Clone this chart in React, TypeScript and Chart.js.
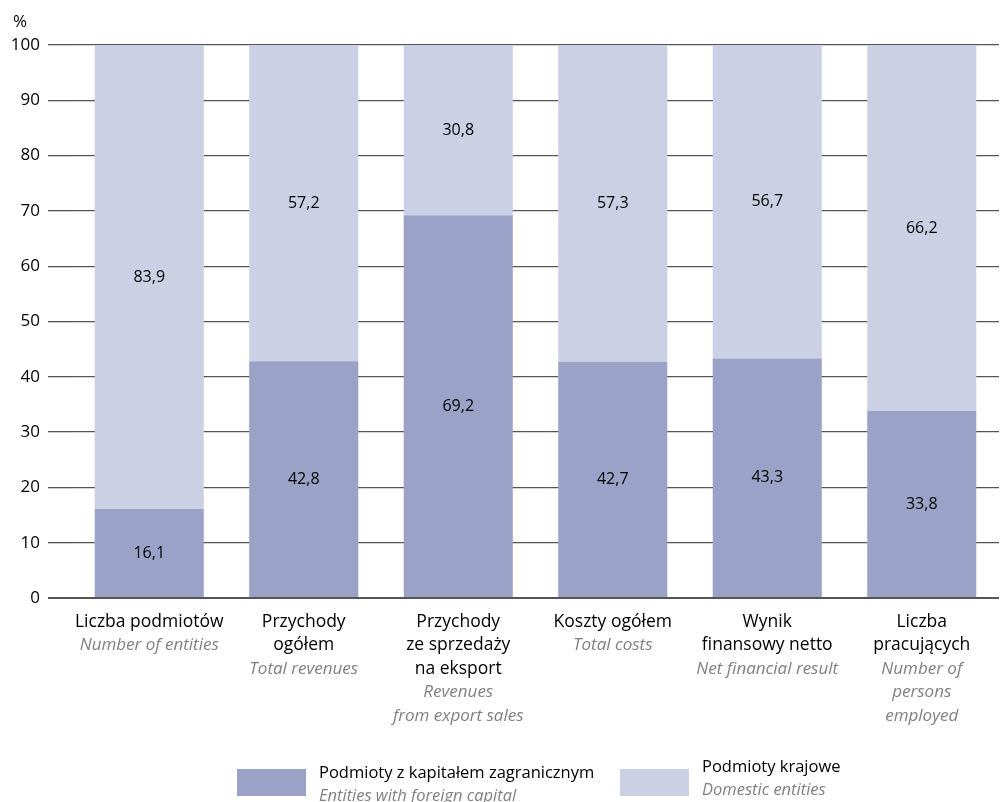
import React, { useEffect, useRef } from "react";
import { Chart, registerables } from "chart.js";

Chart.register(...registerables);

const categoriesPl: string[][] = [
  ["Liczba podmiotów"],
  ["Przychody", "ogółem"],
  ["Przychody", "ze sprzedaży", "na eksport"],
  ["Koszty ogółem"],
  ["Wynik", "finansowy netto"],
  ["Liczba", "pracujących"],
];
const categoriesEn: string[][] = [
  ["Number of entities"],
  ["Total revenues"],
  ["Revenues", "from export sales"],
  ["Total costs"],
  ["Net financial result"],
  ["Number of", "persons", "employed"],
];
const foreignValues = [16.1, 42.8, 69.2, 42.7, 43.3, 33.8];
const domesticValues = [83.9, 57.2, 30.8, 57.3, 56.7, 66.2];
const yTicks = [0, 10, 20, 30, 40, 50, 60, 70, 80, 90, 100];
const seriesNames = ["Podmioty z kapitałem zagranicznym", "Podmioty krajowe"];
const seriesNamesEn = ["Entities with foreign capital", "Domestic entities"];

const FONT = "'Open Sans', 'Noto Sans', sans-serif";
const FOREIGN_COLOR = "#9aa3c7";
const DOMESTIC_COLOR = "#cbd0e4";
const GREY_TEXT = "#808080";

const overlayPlugin = {
  id: "overlay",
  afterDatasetsDraw(chart: any) {
    const ctx = chart.ctx as CanvasRenderingContext2D;
    ctx.save();
    // value labels
    ctx.fillStyle = "#000";
    ctx.font = `16px ${FONT}`;
    ctx.textAlign = "center";
    ctx.textBaseline = "middle";
    chart.data.datasets.forEach((ds: any, di: number) => {
      const meta = chart.getDatasetMeta(di);
      meta.data.forEach((el: any, i: number) => {
        const v = ds.data[i];
        const y = (el.y + el.base) / 2;
        ctx.fillText(String(v).replace(".", ","), el.x, y);
      });
    });
    // category labels
    const xScale = chart.scales.x;
    const lh = 23.5;
    categoriesPl.forEach((lines, i) => {
      const cx = xScale.getPixelForValue(i);
      let y = 622;
      ctx.fillStyle = "#000";
      ctx.font = `17.5px ${FONT}`;
      lines.forEach((l) => {
        ctx.fillText(l, cx, y);
        y += lh;
      });
      ctx.fillStyle = GREY_TEXT;
      ctx.font = `italic 17px ${FONT}`;
      categoriesEn[i].forEach((l) => {
        ctx.fillText(l, cx, y);
        y += lh;
      });
    });
    // percent sign
    ctx.fillStyle = "#000";
    ctx.font = `17px ${FONT}`;
    ctx.textAlign = "left";
    ctx.fillText("%", 13, 22);
    // legend
    const legendItems = [
      { x: 237, color: FOREIGN_COLOR, ty: 773 },
      { x: 620, color: DOMESTIC_COLOR, ty: 767 },
    ];
    legendItems.forEach((it, i) => {
      ctx.fillStyle = it.color;
      ctx.fillRect(it.x, 769, 69, 27);
      ctx.textAlign = "left";
      ctx.fillStyle = "#000";
      ctx.font = `16.5px ${FONT}`;
      ctx.fillText(seriesNames[i], it.x + 82, it.ty);
      ctx.fillStyle = GREY_TEXT;
      ctx.font = `italic 16.5px ${FONT}`;
      ctx.fillText(seriesNamesEn[i], it.x + 82, it.ty + 23);
    });
    ctx.restore();
  },
};

export default function App() {
  const ref = useRef<HTMLCanvasElement | null>(null);
  useEffect(() => {
    document.body.style.margin = "0";
    const canvas = ref.current!;
    const chart = new Chart(canvas, {
      type: "bar",
      data: {
        labels: categoriesPl.map((l) => l.join(" ")),
        datasets: [
          {
            label: seriesNames[0],
            data: foreignValues,
            backgroundColor: FOREIGN_COLOR,
            barPercentage: 0.706,
            categoryPercentage: 1,
          },
          {
            label: seriesNames[1],
            data: domesticValues,
            backgroundColor: DOMESTIC_COLOR,
            barPercentage: 0.706,
            categoryPercentage: 1,
          },
        ],
      },
      options: {
        animation: false,
        responsive: false,
        devicePixelRatio: 1,
        layout: { padding: { top: 45, right: 4, left: 0, bottom: 0 } },
        plugins: {
          legend: { display: false },
          tooltip: { enabled: false },
        },
        scales: {
          x: {
            stacked: true,
            grid: { display: false },
            border: { display: false },
            ticks: { display: false },
            afterFit: (s: any) => {
              s.height = 204;
            },
          },
          y: {
            stacked: true,
            min: 0,
            max: 100,
            afterBuildTicks: (s: any) => {
              s.ticks = yTicks.map((v) => ({ value: v }));
            },
            ticks: {
              color: "#000",
              font: { family: FONT, size: 17 },
              padding: 8,
            },
            grid: {
              color: "#555555",
              lineWidth: (c: any) => (c.tick && c.tick.value === 0 ? 2 : 1.3),
              tickLength: 24,
              tickColor: "#555555",
            },
            border: { display: false },
            afterFit: (s: any) => {
              s.width = 72;
            },
          },
        },
      },
      plugins: [overlayPlugin],
    });
    return () => chart.destroy();
  }, []);
  return <canvas ref={ref} width={1003} height={802} style={{ display: "block" }} />;
}
